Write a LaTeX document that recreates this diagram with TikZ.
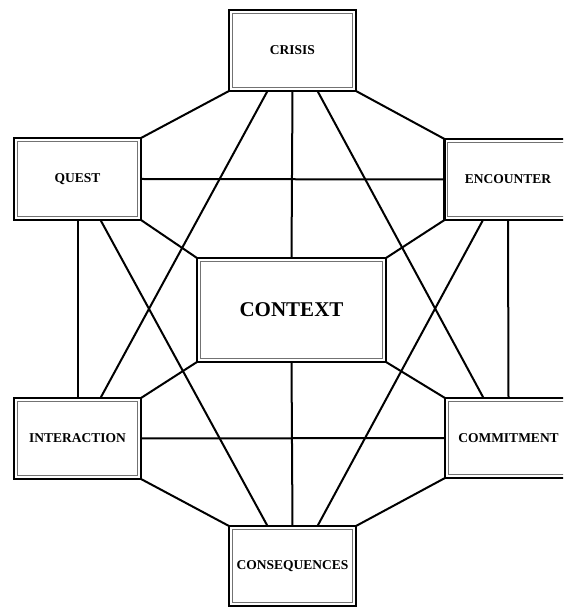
\documentclass[tikz,border=0pt]{standalone}
\usepackage{fontspec}
\setmainfont{Liberation Serif}
\usetikzlibrary{calc}
\tikzset{
  box/.style={draw=black, fill=white, line width=2.6pt, outer sep=0pt, inner sep=0pt,
    font=\bfseries\fontsize{13.5}{16}\selectfont},
  inner/.style={draw=black!55, line width=1.1pt},
  link/.style={draw=black, line width=2pt},
}
\newcommand{\innerbox}[1]{\draw[inner] ($(#1.south west)+(3.4,3.4)$) rectangle ($(#1.north east)+(-3.4,-3.4)$);}
\begin{document}
\begin{tikzpicture}[x=1pt,y=1pt]
\useasboundingbox (0,0) rectangle (563,608);
\clip (0,0) rectangle (563,608);
% nodes (y = 608 - image y)
\node[box, minimum width=127pt, minimum height=81pt] (crisis) at (292.5,557.5) {CRISIS};
\node[box, minimum width=127pt, minimum height=82pt] (quest) at (77.5,429) {QUEST};
\node[box, minimum width=127pt, minimum height=81pt] (enc) at (508,428.5) {ENCOUNTER};
\node[box, minimum width=189pt, minimum height=104pt, font=\bfseries\fontsize{21}{25}\selectfont] (ctx) at (291.5,298) {CONTEXT};
\node[box, minimum width=127pt, minimum height=81pt] (inter) at (77.5,169.5) {INTERACTION};
\node[box, minimum width=127pt, minimum height=80pt] (commit) at (508.5,170) {COMMITMENT};
\node[box, minimum width=127pt, minimum height=80pt] (conseq) at (292.5,42) {CONSEQUENCES};
% connectors
\path[link] (crisis.south west) -- (quest.north east);
\path[link] (crisis.south east) -- (enc.north west);
\path[link] (crisis.south) -- (ctx.north);
\path[link] ($(crisis.south)+(-25,0)$) -- ($(inter.north)+(23,0)$);
\path[link] ($(crisis.south)+(25,0)$) -- ($(commit.north)+(-25,0)$);
\path[link] (quest.east) -- (enc.west);
\path[link] (quest.south east) -- (ctx.north west);
\path[link] (quest.south) -- (inter.north);
\path[link] ($(quest.south)+(23,0)$) -- ($(conseq.north)+(-25,0)$);
\path[link] (enc.south west) -- (ctx.north east);
\path[link] (enc.south) -- (commit.north);
\path[link] ($(enc.south)+(-25,0)$) -- ($(conseq.north)+(25,0)$);
\path[link] (inter.north east) -- (ctx.south west);
\path[link] (inter.east) -- (commit.west);
\path[link] (inter.south east) -- (conseq.north west);
\path[link] (commit.north west) -- (ctx.south east);
\path[link] (commit.south west) -- (conseq.north east);
\path[link] (ctx.south) -- (conseq.north);
% inner grey frames
\foreach \n in {crisis,quest,enc,ctx,inter,commit,conseq} {\innerbox{\n}}
\end{tikzpicture}
\end{document}
